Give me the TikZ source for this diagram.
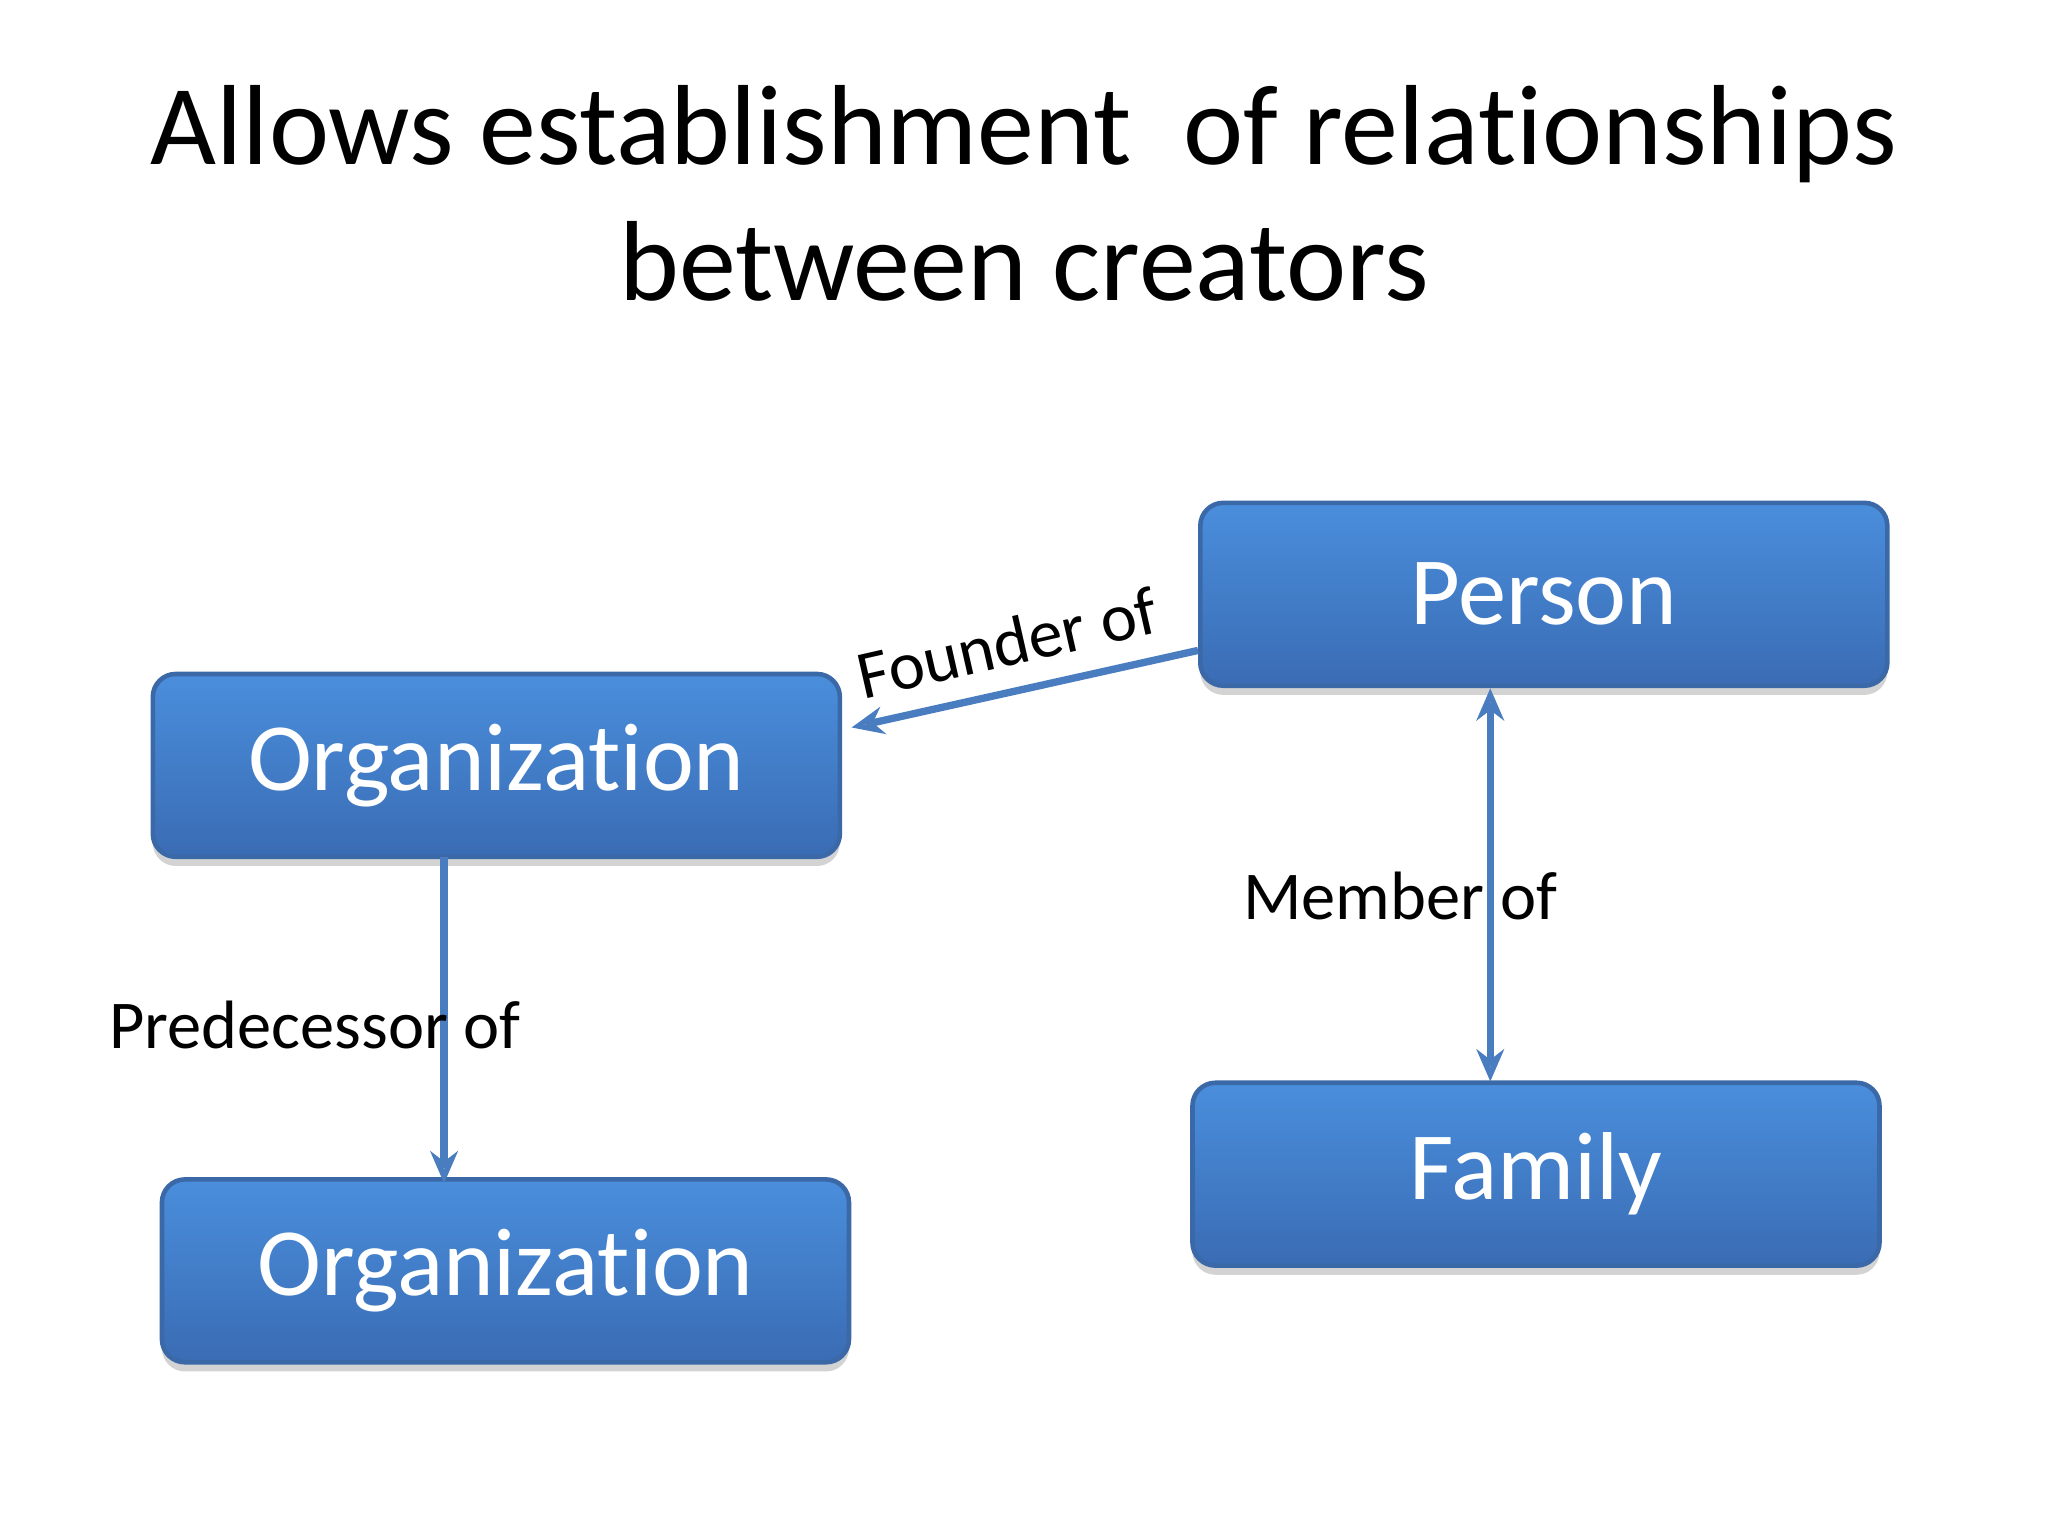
\documentclass[tikz,border=0pt]{standalone}
\usepackage{fontspec}
\setmainfont[Ligatures={NoCommon}]{Carlito}
\usetikzlibrary{shadows,arrows.meta}
\definecolor{btop}{HTML}{4A8EDC}
\definecolor{bbot}{HTML}{3A6CB4}
\definecolor{bline}{HTML}{3B69A8}
\definecolor{aline}{HTML}{4A7DC0}
\tikzset{
 box/.style={draw=bline,line width=1pt,rounded corners=5pt,top color=btop,bottom color=bbot,
   minimum width=526*0.01cm,minimum height=140*0.01cm,text=white,font=\fontsize{21}{25}\selectfont,
   drop shadow={shadow xshift=0pt,shadow yshift=-2pt,opacity=0.35}},
 conn/.style={draw=aline,line width=1.6pt,-{Stealth[length=7pt,width=6pt,open]}},
 lab/.style={font=\fontsize{14.9}{18}\selectfont,text=black}
}
\begin{document}
\begin{tikzpicture}[x=0.01cm,y=-0.01cm]
\useasboundingbox (0,0) rectangle (1568,1176);
\node[align=center,font=\fontsize{24.8}{29.5}\selectfont] (title) at (784,148) {Allows establishment\ \ of relationships\\between creators};
\node[box] (person) at (1182,455) {Person};
\node[box] (org1) at (380,586) {Organization};
\node[box] (org2) at (387,973) {Organization};
\node[box] (family) at (1176,899) {Family};
\draw[conn] (person.west|-0,498) coordinate (p1) -- (652,557) coordinate (o1);
\draw[conn] (340,656) coordinate (a1) -- (340,906) coordinate (a2);
\draw[conn,{Stealth[length=7pt,width=6pt,open]}-{Stealth[length=7pt,width=6pt,open]}] (1141,527) coordinate (b1) -- (1141,828) coordinate (b2);
\node[lab,rotate=12.8] (lf) at (771,492) {Founder of};
\node[lab] (lp) at (241,785) {Predecessor of};
\node[lab] (lm) at (1072,686) {Member of};
\end{tikzpicture}
\end{document}
